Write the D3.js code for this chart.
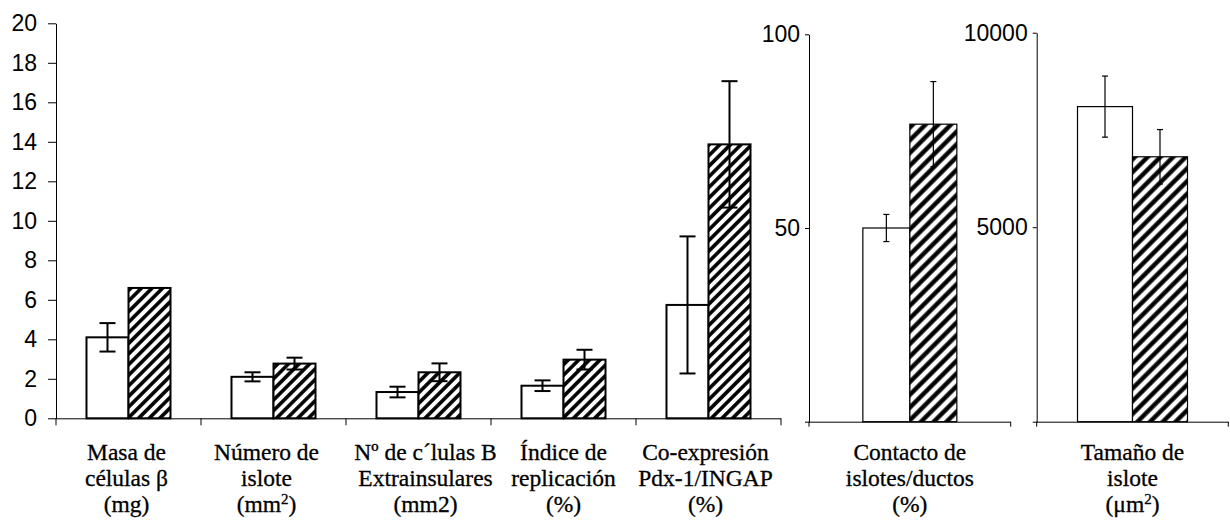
<!DOCTYPE html>
<html>
<head>
<meta charset="utf-8">
<script src="https://cdn.jsdelivr.net/npm/d3@7"></script>
<style>
  body { margin: 0; background: #fff; }
  svg { display: block; }
  .lbl { font-family: "Liberation Serif", "Times New Roman", Times, serif; }
  .num { font-family: "Liberation Sans", Arial, Helvetica, sans-serif; }
</style>
</head>
<body>
<svg id="chart"></svg>
<script>
// --- datos ---
const mainCategories = ["masa", "numero", "extra", "indice", "coexp"];
const mainLabels = [
  ["Masa de", "células β", "(mg)"],
  ["Número de", "islote", "(mm²)"],
  ["Nº de c´lulas B", "Extrainsulares", "(mm2)"],
  ["Índice de", "replicación", "(%)"],
  ["Co-expresión", "Pdx-1/INGAP", "(%)"]
];
const mainControl    = [4.1, 2.1, 1.33, 1.65, 5.74];
const mainControlErr = [0.72, 0.23, 0.27, 0.27, 3.47];
const mainTreated    = [6.6, 2.77, 2.33, 2.97, 13.87];
const mainTreatedErr = [null, 0.3, 0.45, 0.5, 3.2];
const mainTicks = [0, 2, 4, 6, 8, 10, 12, 14, 16, 18, 20];

const contactLabels = [["Contacto de", "islotes/ductos", "(%)"]];
const contactControl = [50.0], contactControlErr = [3.5];
const contactTreated = [76.8], contactTreatedErr = [11];
const contactTicks = [0, 50, 100];

const sizeLabels = [["Tamaño de", "islote", "(μm²)"]];
const sizeControl = [8100], sizeControlErr = [785];
const sizeTreated = [6810], sizeTreatedErr = [700];
const sizeTicks = [0, 5000, 10000];

const W = 1230, H = 524;
const svg = d3.select("#chart").attr("width", W).attr("height", H);
const defs = svg.append("defs");

function hatch(id, size, thick) {
  const p = defs.append("pattern")
    .attr("id", id)
    .attr("patternUnits", "userSpaceOnUse")
    .attr("width", size).attr("height", size)
    .attr("patternTransform", "rotate(45)");
  p.append("rect").attr("width", size).attr("height", size).attr("fill", "#fff");
  p.append("line")
    .attr("x1", size / 2).attr("y1", -1).attr("x2", size / 2).attr("y2", size + 1)
    .attr("stroke", "#000").attr("stroke-width", thick);
}
hatch("hatchMain", 7.5, 3.6);
hatch("hatchSide", 9, 4.4);

function drawLabel(g, x, lines, y0) {
  lines.forEach((line, i) => {
    const t = g.append("text")
      .attr("class", "lbl")
      .attr("x", x).attr("y", y0 + i * 26)
      .attr("text-anchor", "middle")
      .attr("font-size", 23.5)
      .attr("fill", "#000")
      .attr("stroke", "#000")
      .attr("stroke-width", 0.3);
    const parts = line.split("²");
    parts.forEach((s, k) => {
      const sp = t.append("tspan").text(s);
      if (k > 0) sp.attr("dy", 8).attr("font-size", 23.5);
      if (k < parts.length - 1) {
        t.append("tspan").attr("dy", -8).attr("font-size", 15).text("2");
      }
    });
  });
}

function drawPanel(o) {
  const cats = o.labels.map((d, i) => "c" + i);
  const x = d3.scaleBand().domain(cats).range([o.x0, o.x1]);
  const sub = d3.scaleBand().domain(["ctrl", "trt"])
    .range([0, x.bandwidth()]).paddingInner(0).paddingOuter(o.outer);
  const y = d3.scaleLinear().domain(o.domain).range([o.yBottom, o.yTop]);
  const g = svg.append("g");

  // eje y
  const yAxis = d3.axisLeft(y)
    .tickValues(o.ticks)
    .tickSize(o.tickLen)
    .tickSizeOuter(0)
    .tickPadding(o.tickPad)
    .tickFormat(o.tickFormat);
  const ya = g.append("g").attr("transform", `translate(${o.x0},0)`).call(yAxis);
  ya.attr("font-family", null).attr("font-size", null);
  ya.selectAll("text")
    .attr("class", "num")
    .attr("font-size", 23)
    .attr("fill", "#000");
  ya.selectAll("line, path").attr("stroke", "#000").attr("stroke-width", 1);

  const rows = cats.map((c, i) => [
    { c, s: "ctrl", v: o.ctrl[i], e: o.ctrlErr[i] },
    { c, s: "trt", v: o.trt[i], e: o.trtErr[i] }
  ]).flat();

  g.selectAll("rect.bar").data(rows).join("rect")
    .attr("class", "bar")
    .attr("x", d => x(d.c) + sub(d.s))
    .attr("y", d => y(d.v))
    .attr("width", sub.bandwidth())
    .attr("height", d => y(0) - y(d.v))
    .attr("fill", d => d.s === "ctrl" ? "#fff" : `url(#${o.hatch})`)
    .attr("stroke", "#000")
    .attr("stroke-width", o.barStroke);

  // barras de error
  const err = rows.filter(d => d.e != null);
  const cx = d => x(d.c) + sub(d.s) + sub.bandwidth() / 2;
  const eg = g.append("g").attr("stroke", "#000").attr("stroke-width", o.errStroke);
  eg.selectAll("line.v").data(err).join("line")
    .attr("x1", cx).attr("x2", cx)
    .attr("y1", d => y(d.v + d.e)).attr("y2", d => y(d.v - d.e));
  eg.selectAll("line.top").data(err).join("line")
    .attr("x1", d => cx(d) - o.cap / 2).attr("x2", d => cx(d) + o.cap / 2)
    .attr("y1", d => y(d.v + d.e)).attr("y2", d => y(d.v + d.e));
  eg.selectAll("line.bot").data(err).join("line")
    .attr("x1", d => cx(d) - o.cap / 2).attr("x2", d => cx(d) + o.cap / 2)
    .attr("y1", d => y(d.v - d.e)).attr("y2", d => y(d.v - d.e));

  // eje x
  const xg = g.append("g").attr("stroke", "#000").attr("stroke-width", 1);
  xg.append("line").attr("x1", o.x0).attr("x2", o.x1)
    .attr("y1", y(0) + 0.5).attr("y2", y(0) + 0.5);
  const bounds = o.edgeTicksOnly ? [o.x0, o.x1] : cats.map(c => x(c)).concat([o.x1]);
  xg.selectAll("line.t").data(bounds).join("line")
    .attr("x1", d => d).attr("x2", d => d)
    .attr("y1", y(0)).attr("y2", y(0) + o.xTickLen);

  cats.forEach((c, i) => {
    drawLabel(g, x(c) + x.bandwidth() / 2 + (o.labelShift ? o.labelShift[i] : 0), o.labels[i], 460);
  });
}

drawPanel({
  labels: mainLabels, ctrl: mainControl, ctrlErr: mainControlErr,
  trt: mainTreated, trtErr: mainTreatedErr, ticks: mainTicks,
  domain: [0, 20], x0: 56, x1: 781, yTop: 23.3, yBottom: 418.3,
  outer: 0.726, hatch: "hatchMain", barStroke: 2, errStroke: 2, cap: 16,
  tickLen: 8, tickPad: 11, tickFormat: d3.format("d"), xTickLen: 7,
  labelShift: [-2, -7, 7, 0, -3]
});

drawPanel({
  labels: contactLabels, ctrl: contactControl, ctrlErr: contactControlErr,
  trt: contactTreated, trtErr: contactTreatedErr, ticks: contactTicks,
  domain: [0, 100], x0: 809, x1: 1010.7, yTop: 34.3, yBottom: 421.7,
  outer: 1.146, hatch: "hatchSide", barStroke: 1.2, errStroke: 1.2, cap: 6,
  tickLen: 4, tickPad: 5, tickFormat: d => d === 0 ? "" : d, xTickLen: 5,
  edgeTicksOnly: true
});

drawPanel({
  labels: sizeLabels, ctrl: sizeControl, ctrlErr: sizeControlErr,
  trt: sizeTreated, trtErr: sizeTreatedErr, ticks: sizeTicks,
  domain: [0, 10000], x0: 1036.7, x1: 1228.3, yTop: 32.7, yBottom: 421.7,
  outer: 0.742, hatch: "hatchSide", barStroke: 1.2, errStroke: 1.2, cap: 6,
  tickLen: 4, tickPad: 5, tickFormat: d => d === 0 ? "" : d, xTickLen: 5,
  edgeTicksOnly: true
});
</script>
</body>
</html>
